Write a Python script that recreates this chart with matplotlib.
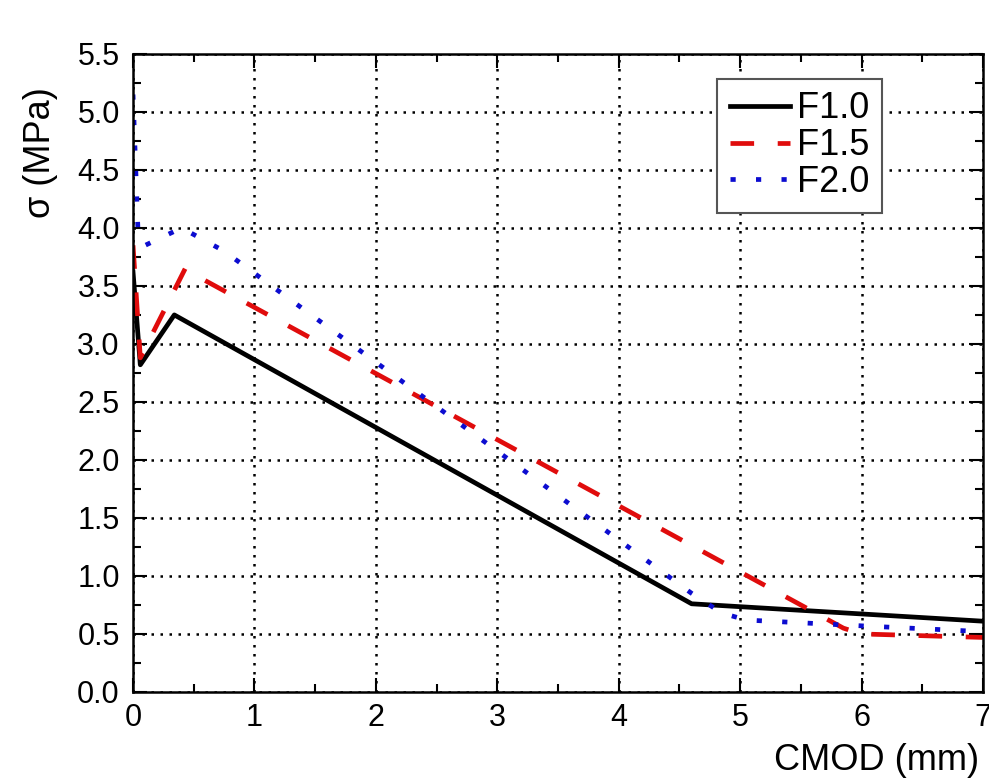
import numpy as np
import matplotlib.pyplot as plt
from matplotlib.ticker import MultipleLocator

plt.rcParams['font.family'] = ['Liberation Sans', 'DejaVu Sans']

# --- data ---
f10_x = [0.0, 0.06, 0.34, 4.6, 7.0]
f10_y = [3.62, 2.82, 3.25, 0.76, 0.61]

f15_x = [0.0, 0.06, 0.43, 0.5, 5.85, 6.0, 7.0]
f15_y = [3.85, 2.88, 3.65, 3.6, 0.55, 0.5, 0.47]

f20_x = [0.0, 0.04, 0.1, 0.4, 0.75, 4.6, 4.85, 5.05, 6.0, 7.0]
f20_y = [5.15, 4.0, 3.85, 4.0, 3.8, 0.85, 0.68, 0.62, 0.57, 0.52]

x_ticks = [0, 1, 2, 3, 4, 5, 6, 7]
y_ticks = np.arange(0, 5.51, 0.5)

fig = plt.figure(figsize=(9.89, 7.81), dpi=100)
ax = fig.add_axes([0.1345, 0.114, 0.8595, 0.817])

ax.plot(f10_x, f10_y, color='black', lw=3.4, label='F1.0')
ax.plot(f15_x, f15_y, color='#e00c0c', lw=3.4, ls=(0, (5, 5)), label='F1.5')
ax.plot(f20_x, f20_y, color='#0c0cd0', lw=3.4, ls=(0, (1.1, 4.3)), label='F2.0')

ax.set_xlim(0, 7)
ax.set_ylim(0, 5.5)
ax.set_xticks(x_ticks)
ax.set_yticks(y_ticks)
ax.set_yticklabels([f"{v:.1f}" for v in y_ticks])
ax.xaxis.set_minor_locator(MultipleLocator(0.5))
ax.yaxis.set_minor_locator(MultipleLocator(0.25))
ax.tick_params(which='both', direction='in', top=True, right=True, labelsize=22, width=1.5)
ax.tick_params(which='major', length=10, pad=8)
ax.tick_params(axis='y', which='major', pad=9.5)
ax.tick_params(which='minor', length=6)
for s in ax.spines.values():
    s.set_linewidth(1.8)

ax.grid(True, which='major', color='black', ls=(0, (1, 2.6)), lw=1.8)

ax.set_xlabel('CMOD (mm)', fontsize=26)
ax.xaxis.set_label_coords(0.875, -0.107)
ax.set_ylabel('σ (MPa)', fontsize=26)
ax.yaxis.set_label_coords(-0.109, 0.845)
ax.yaxis.label.set_va('center')
ax.xaxis.label.set_va('center')

leg = ax.legend(loc='upper right', bbox_to_anchor=(0.881, 0.961), fontsize=26,
                handlelength=1.65, fancybox=False, framealpha=1, edgecolor='#555555',
                borderpad=0.35, labelspacing=0.05, handletextpad=0.2, borderaxespad=0)
leg.get_frame().set_linewidth(1.5)

fig.savefig('out.png', dpi=100)
